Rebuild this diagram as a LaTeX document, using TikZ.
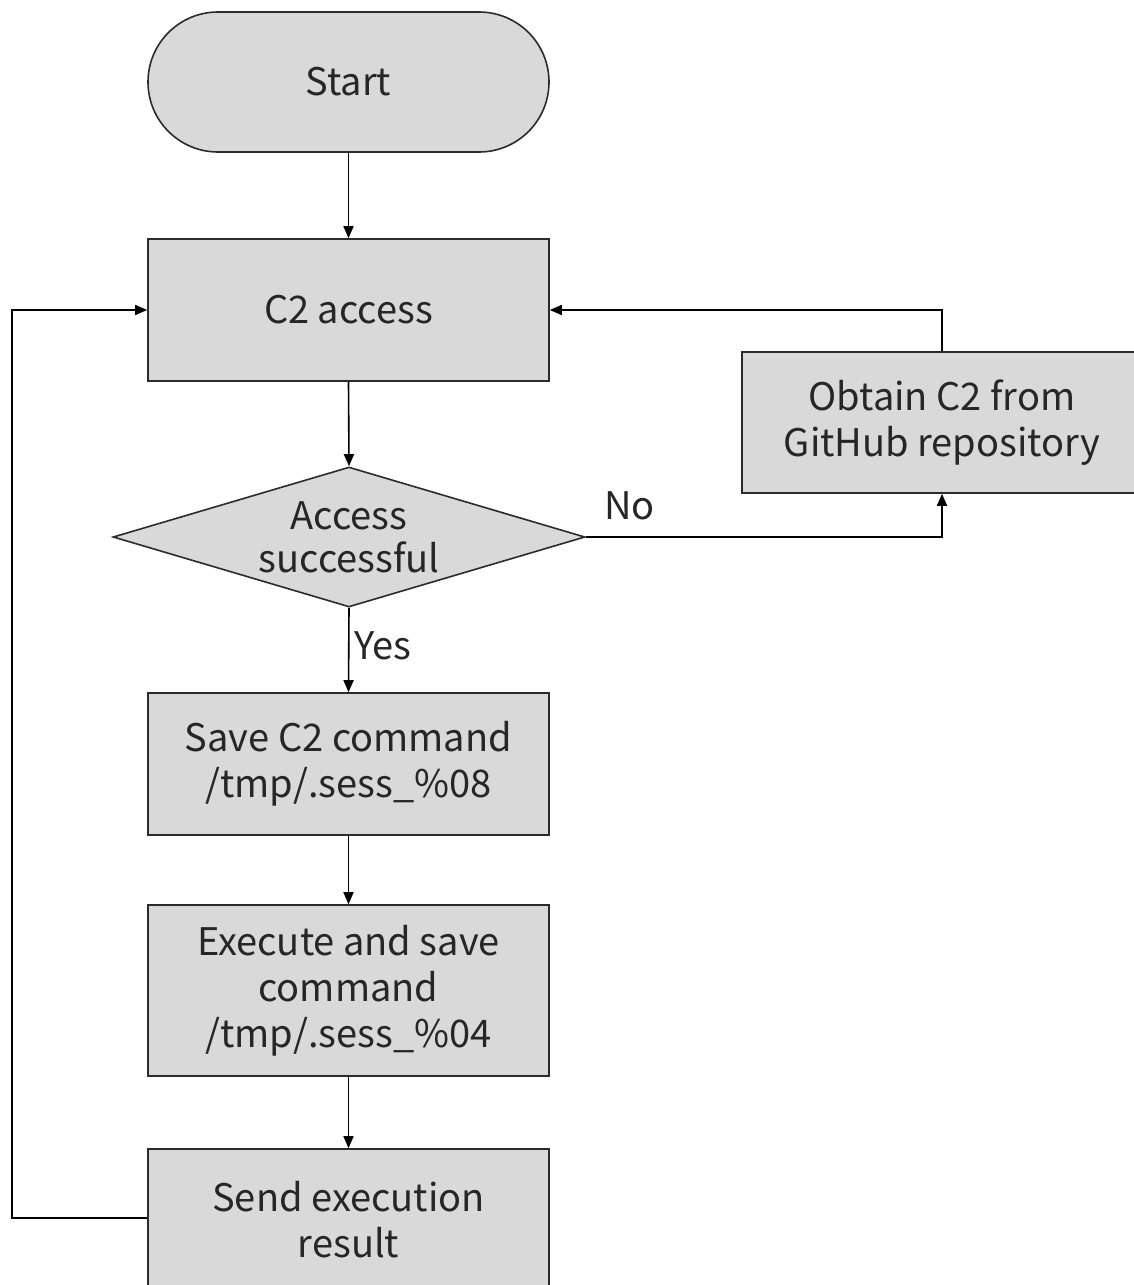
\documentclass[tikz,border=0pt]{standalone}
\usepackage{fontspec}
\setmainfont{Noto Sans CJK JP}
\usetikzlibrary{arrows.meta,shapes.geometric}
\definecolor{boxfill}{HTML}{D9D9D9}
\definecolor{boxline}{HTML}{2B2B2B}
\definecolor{txt}{HTML}{262626}
\tikzset{
  x=1pt,y=1pt,
  base/.style={draw=boxline,line width=1.6pt,fill=boxfill,text=txt,align=center,
     font=\fontsize{38}{46}\selectfont,inner sep=0pt},
  procbox/.style={base,rectangle,minimum width=401,minimum height=142},
  termbox/.style={base,rectangle,rounded corners=70,minimum width=401,minimum height=140},
  decbox/.style={base,diamond,minimum width=472,minimum height=140},
  conn/.style={draw=black,line width=1.6pt,-{Triangle[length=12pt,width=10pt]}},
  plain/.style={draw=black,line width=1.6pt},
  lbl/.style={text=txt,font=\fontsize{38}{46}\selectfont,inner sep=0pt}
}
\begin{document}
\begin{tikzpicture}
\useasboundingbox (0,0) rectangle (1133,-1285);
\node[termbox] (start) at (348.5,-82) {Start};
\node[procbox] (c2) at (348.5,-310) {C2 access};
\node[procbox,minimum width=400,minimum height=141] (obtain) at (942,-422.5) {Obtain C2 from\\GitHub repository};
\node[decbox] (dec) at (349,-537) {\smash{\makebox[0pt]{\raisebox{-11pt}{\begin{tabular}{@{}c@{}}Access\\[-3pt]successful\end{tabular}}}}};
\node[procbox] (save) at (348.5,-764) {Save C2 command\\/tmp/.sess\_\%08};
\node[procbox,minimum height=171] (exec) at (348.5,-990.5) {Execute and save\\command\\/tmp/.sess\_\%04};
\node[procbox] (send) at (348.5,-1220) {Send execution\\result};
\node[lbl,anchor=west] (no) at (604,-506) {No};
\node[lbl,anchor=west] (yes) at (354,-646) {Yes};
\coordinate (loopx) at (12,-1218);
\draw[conn] (start.south) -- (c2.north);
\draw[conn] (c2.south) -- (dec.north);
\draw[conn] (dec.south) -- (save.north);
\draw[conn] (save.south) -- (exec.north);
\draw[conn] (exec.south) -- (send.north);
\draw[conn] (dec.east) -| (obtain.south);
\draw[conn] (obtain.north) |- (c2.east);
\draw[conn] (send.west |- loopx) -- (loopx) |- (c2.west);
\end{tikzpicture}
\end{document}
